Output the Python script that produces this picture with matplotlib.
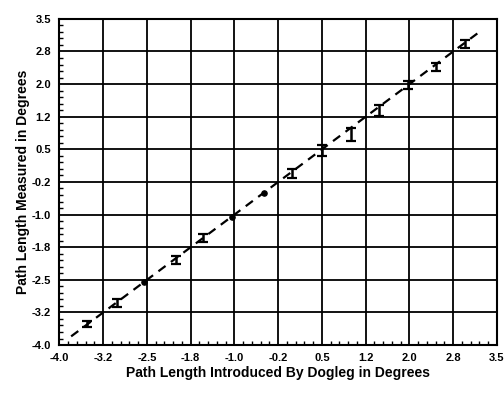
import matplotlib.pyplot as plt
import numpy as np

plt.rcParams['font.family'] = ['Liberation Sans', 'DejaVu Sans']

# measured points with error bars
x_err = [-3.52, -3.01, -2.01, -1.54, -0.02, 0.50, 1.00, 1.47, 1.98, 2.46, 2.95]
y_err = [-3.52, -3.03, -2.04, -1.54, -0.05, 0.47, 0.84, 1.39, 1.98, 2.39, 2.92]
e_err = [0.07, 0.10, 0.09, 0.10, 0.10, 0.12, 0.15, 0.12, 0.10, 0.09, 0.09]

# points without visible error bars
x_pts = [-2.55, -1.05, -0.50]
y_pts = [-2.55, -1.05, -0.50]

# reference line y = x
x_ref = [-3.8, 3.2]

ticks = [-4.0, -3.25, -2.5, -1.75, -1.0, -0.25, 0.5, 1.25, 2.0, 2.75, 3.5]
tick_labels = ['-4.0', '-3.2', '-2.5', '-1.8', '-1.0', '-0.2', '0.5', '1.2', '2.0', '2.8', '3.5']

fig = plt.figure(figsize=(5.04, 3.93), dpi=100)
ax = fig.add_axes([0.118, 0.122, 0.868, 0.83])

ax.plot(x_ref, x_ref, color='black', linestyle=(0, (4, 3)), linewidth=1.6, zorder=3)
ax.errorbar(x_err, y_err, yerr=e_err, fmt='none', ecolor='black',
            elinewidth=1.8, capsize=3.5, capthick=1.6, zorder=4)
ax.scatter(x_pts, y_pts, s=14, color='black', zorder=4)

ax.set_xlim(-4.0, 3.5)
ax.set_ylim(-4.0, 3.5)
ax.set_xticks(ticks)
ax.set_yticks(ticks)
ax.set_xticklabels(tick_labels, fontsize=8, fontweight='bold')
ax.set_yticklabels(tick_labels, fontsize=8, fontweight='bold')

minor = np.arange(-4.0, 3.5001, 0.15)
ax.set_xticks(minor, minor=True)
ax.set_yticks(minor, minor=True)
ax.tick_params(which='major', direction='in', length=0, pad=6)
ax.tick_params(which='minor', direction='in', length=3, width=1, top=False, right=False)

ax.grid(True, which='major', color='black', linewidth=1.3)
for s in ax.spines.values():
    s.set_linewidth(1.5)

ax.set_xlabel('Path Length Introduced By Dogleg in Degrees', fontsize=10, fontweight='bold', labelpad=2)
ax.set_ylabel('Path Length Measured in Degrees', fontsize=10, fontweight='bold', labelpad=1)

fig.savefig('out.png', dpi=100)
